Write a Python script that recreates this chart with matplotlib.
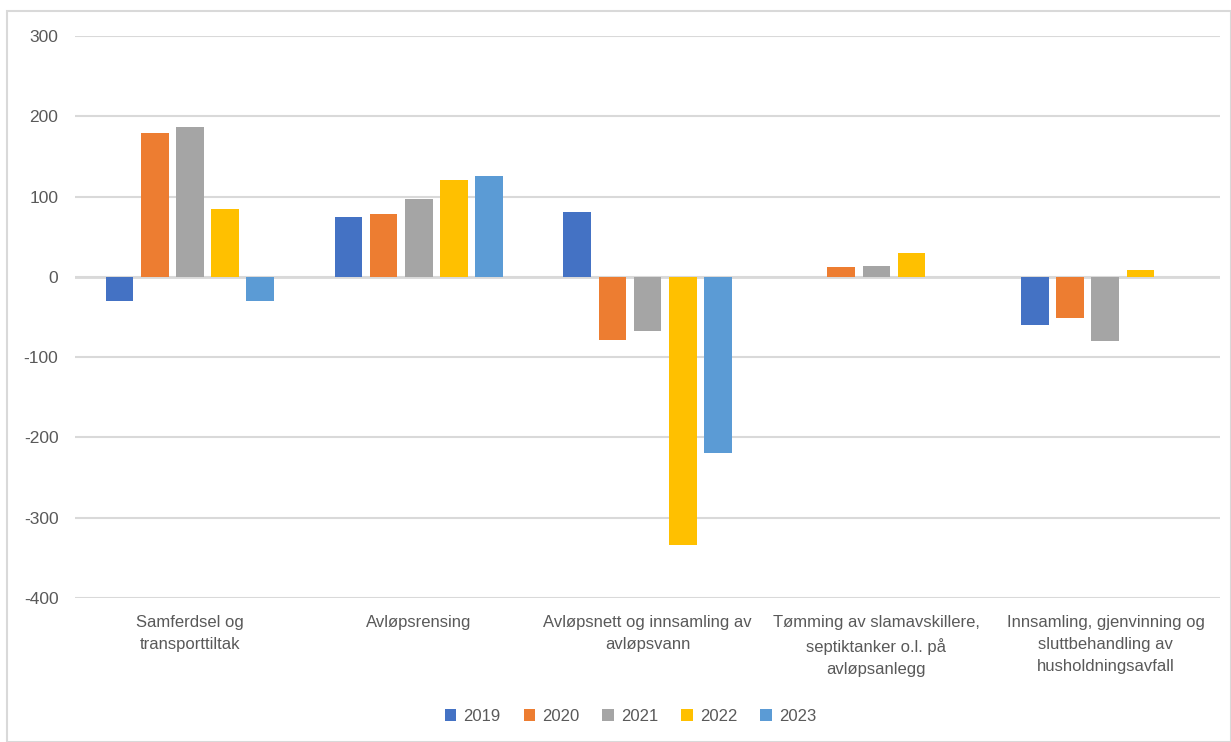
import matplotlib.pyplot as plt
import numpy as np
from matplotlib.patches import Rectangle

plt.rcParams['font.family'] = ['Liberation Sans Narrow', 'Liberation Sans', 'DejaVu Sans']
plt.rcParams['axes.unicode_minus'] = False

# data
categories = ['Samferdsel og\ntransporttiltak',
              'Avløpsrensing',
              'Avløpsnett og innsamling av\navløpsvann',
              'Tømming av slamavskillere,\nseptiktanker o.l. på\navløpsanlegg',
              'Innsamling, gjenvinning og\nsluttbehandling av\nhusholdningsavfall']
years = ['2019', '2020', '2021', '2022', '2023']
v2019 = [-30, 75, 81, 0, -60]
v2020 = [179, 78, -78, 12, -51]
v2021 = [187, 97, -67, 14, -80]
v2022 = [85, 121, -334, 30, 9]
v2023 = [-30, 126, -219, 0, 0]
series = [v2019, v2020, v2021, v2022, v2023]
colors = ['#4472C4', '#ED7D31', '#A5A5A5', '#FFC000', '#5B9BD5']

fig = plt.figure(figsize=(12.31, 7.42), dpi=100)
ax = fig.add_axes([0.061, 0.194, 0.93, 0.7575])

x = np.arange(len(categories))
step = 0.153
width = 0.122
for i, (vals, c) in enumerate(zip(series, colors)):
    ax.bar(x + (i - 2) * step, vals, width, color=c, label=years[i], zorder=3)

ax.set_xlim(-0.5, len(categories) - 0.5)
ax.set_ylim(-400, 300)
ax.set_yticks(np.arange(-400, 301, 100))
ax.set_xticks(x)
ax.set_xticklabels(categories, fontsize=12, color='#595959', linespacing=1.6)
ax.tick_params(axis='y', labelsize=12.5, labelcolor='#595959', length=0, pad=12)
ax.tick_params(axis='x', length=0, pad=12)
ax.grid(axis='y', color='#D9D9D9', linewidth=1.5, zorder=0)
ax.axhline(0, color='#D9D9D9', linewidth=2, zorder=1)
for s in ax.spines.values():
    s.set_visible(False)

fig.legend(loc='center', bbox_to_anchor=(0.512, 0.035), ncol=5, frameon=False,
           fontsize=12, labelcolor='#595959', handlelength=0.7, handleheight=0.7,
           handletextpad=0.4, columnspacing=1.4)

fig.patches.append(Rectangle((7 / 1231, 0), 1 - 7 / 1231, 1 - 11 / 742,
                             transform=fig.transFigure, fill=False,
                             edgecolor='#D9D9D9', linewidth=1.5))

fig.savefig('out.png', dpi=100)
